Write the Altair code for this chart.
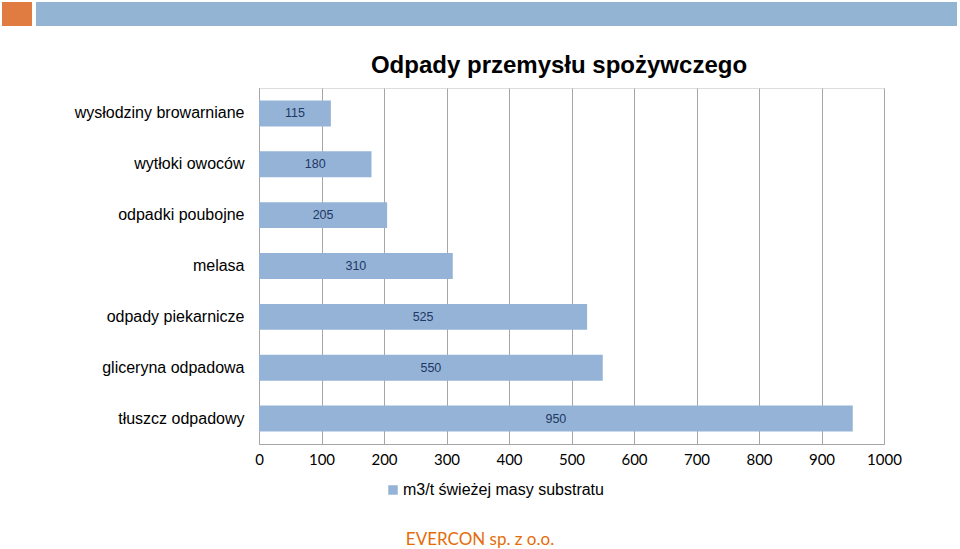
import altair as alt
import pandas as pd

categories = ["wysłodziny browarniane", "wytłoki owoców", "odpadki poubojne", "melasa",
              "odpady piekarnicze", "gliceryna odpadowa", "tłuszcz odpadowy"]
values = [115, 180, 205, 310, 525, 550, 950]
series_name = "m3/t świeżej masy substratu"
x_ticks = [0, 100, 200, 300, 400, 500, 600, 700, 800, 900, 1000]
title_text = "Odpady przemysłu spożywczego"
footer_text = "EVERCON sp. z o.o."

df = pd.DataFrame({"category": categories, "value": values, "series": series_name})
one = pd.DataFrame({"a": [0]})

PL, PT = 259, 88
W, H = 625, 356
BAR = "#95B3D7"
GRID = "#A6A6A6"

x_enc = alt.X("value:Q", scale=alt.Scale(domain=[0, 1000], nice=False),
              axis=alt.Axis(values=x_ticks, format="d", labelFlush=False,
                            grid=True, gridColor=GRID, gridWidth=1,
                            domainColor=GRID, ticks=False, labelPadding=8,
                            labelFontSize=15, labelFont="Lato", labelColor="#000000",
                            title=None))
y_enc = alt.Y("category:N", sort=categories,
              scale=alt.Scale(paddingInner=0.49, paddingOuter=0.245),
              axis=alt.Axis(ticks=False, domainColor=GRID, labelPadding=15,
                            labelFontSize=16, labelFont="Liberation Sans",
                            labelColor="#000000", title=None, labelLimit=0))

bars = alt.Chart(df).mark_bar(cornerRadius=0).encode(
    x=x_enc, y=y_enc,
    color=alt.Color("series:N", scale=alt.Scale(range=[BAR]),
                    legend=alt.Legend(title=None, orient="none", legendX=126, legendY=394,
                                      symbolType="square", symbolSize=90,
                                      symbolStrokeWidth=0, labelFontSize=16,
                                      labelFont="Liberation Sans", labelColor="#000000",
                                      labelOffset=2, labelLimit=0)))

labels = alt.Chart(df).transform_calculate(mid="datum.value / 2").mark_text(
    fontSize=12.5, font="Liberation Sans", color="#1F3864", baseline="middle", align="center"
).encode(x=alt.X("mid:Q"), y=alt.Y("category:N", sort=categories), text="value:Q")

title = alt.Chart(one).mark_text(fontSize=24, fontWeight="bold", font="Liberation Sans",
                                 color="#000000", align="center", baseline="middle").encode(
    x=alt.value(559 - PL), y=alt.value(66 - PT), text=alt.value(title_text))

footer = alt.Chart(one).mark_text(fontSize=17, font="Lato", color="#E46C0A",
                                  align="center", baseline="middle").encode(
    x=alt.value(480 - PL), y=alt.value(540 - PT), text=alt.value(footer_text))

deco_orange = alt.Chart(one).mark_rect(color="#E07B42").encode(
    x=alt.value(2 - PL), x2=alt.value(32 - PL), y=alt.value(2 - PT), y2=alt.value(26 - PT))
deco_blue = alt.Chart(one).mark_rect(color="#94B4D3").encode(
    x=alt.value(36 - PL), x2=alt.value(957 - PL), y=alt.value(2 - PT), y2=alt.value(26 - PT))

chart = alt.layer(bars, labels, title, footer, deco_orange, deco_blue).properties(
    width=W, height=H,
    autosize=alt.AutoSizeParams(type="none"),
    padding={"left": PL, "top": PT, "right": 960 - PL - W, "bottom": 549 - PT - H},
).configure_view(stroke=None).configure(background="white")

chart.save("out.html", embed_options={"renderer": "svg", "actions": False})
